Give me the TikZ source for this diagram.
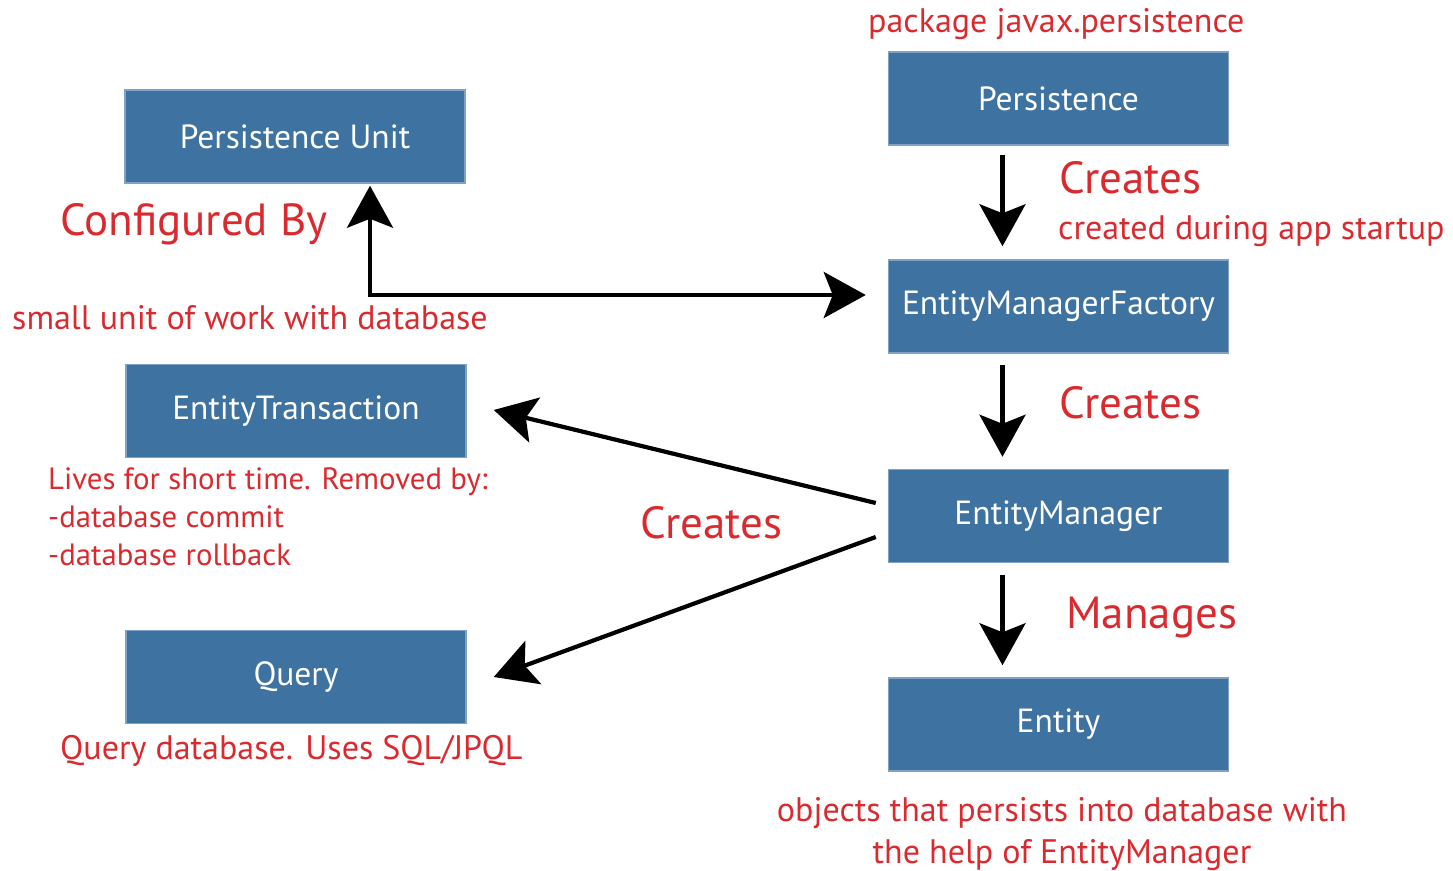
\documentclass[tikz,border=0pt]{standalone}
\usepackage{fontspec}
\setmainfont{PT Sans}
\usetikzlibrary{arrows.meta}
\definecolor{boxblue}{HTML}{3E72A1}
\definecolor{boxedge}{HTML}{7FA3C6}
\definecolor{notered}{HTML}{D92B2F}
\tikzset{
  box/.style={draw=boxedge, line width=1.5pt, fill=boxblue, text=white,
    minimum width=340pt, minimum height=93pt, inner sep=0pt,
    font=\fontsize{33.5}{40}\selectfont},
  big/.style={text=notered, inner sep=0pt, font=\fontsize{45}{52}\selectfont},
  note/.style={text=notered, inner sep=0pt, font=\fontsize{34}{42}\selectfont},
  tip/.style={Stealth[length=42pt,width=46pt,inset=9pt]},
  arr/.style={line width=4.2pt, -{Stealth[length=42pt,width=46pt,inset=9pt]}},
  arrboth/.style={line width=4.2pt, {Stealth[length=42pt,width=46pt,inset=9pt]}-{Stealth[length=42pt,width=46pt,inset=9pt]}}
}
\begin{document}
\begin{tikzpicture}[x=1pt,y=-1pt]
\useasboundingbox (0,0) rectangle (1453,870);

% boxes
\node[box] (pu)  at (295,136.5)  {Persistence Unit};
\node[box] (p)   at (1058.5,98.5) {Persistence};
\node[box] (emf) at (1058.5,306.5) {EntityManagerFactory};
\node[box] (et)  at (296,411)    {EntityTransaction};
\node[box] (em)  at (1058.5,516) {EntityManager};
\node[box] (q)   at (296,677)    {Query};
\node[box] (e)   at (1058.5,724.5) {Entity};

% connectors
\draw[arr] ([xshift=-56pt,yshift=-9pt]p.south) -- ([xshift=-56pt,yshift=13pt]emf.north);
\draw[arr] ([xshift=-56pt,yshift=-11pt]emf.south) -- ([xshift=-56pt,yshift=12pt]em.north);
\draw[arr] ([xshift=-56pt,yshift=-12pt]em.south) -- ([xshift=-56pt,yshift=12pt]e.north);
\draw[arrboth] ([xshift=75pt,yshift=-2pt]pu.south) |- ([xshift=-22pt,yshift=11.5pt]emf.west);
\draw[arr] ([xshift=-12pt,yshift=13pt]em.west) -- ([xshift=27pt,yshift=1pt]et.east);
\draw[arr] ([xshift=-12pt,yshift=-21pt]em.west) -- ([xshift=27pt]q.east);

% labels
\node[note, anchor=west] (lpkg) at (868,24) {package javax.persistence};
\node[big, anchor=west] (lc1) at (1059,178) {Creates};
\node[note, anchor=west] (lstart) at (1058,231) {created during app startup};
\node[big, anchor=west] (lconf) at (60,224) {Configured By};
\node[note, anchor=west] (lsmall) at (12,318) {small unit of work with database};
\node[big, anchor=west] (lc2) at (1059,403) {Creates};
\node[note, anchor=north west, align=left, font=\fontsize{30.8}{38}\selectfont] (llive) at (48,467)
  {Lives for short time. Removed by:\\-database commit\\-database rollback};
\node[big, anchor=west] (lc3) at (640,523) {Creates};
\node[big, anchor=west] (lman) at (1066,618) {Manages};
\node[note, anchor=west] (lquery) at (60,751) {Query database. Uses SQL/JPQL};
\node[note, align=center, font=\fontsize{34}{42}\selectfont] (lobj) at (1062,834)
  {objects that persists into database with\\the help of EntityManager};
\end{tikzpicture}
\end{document}
